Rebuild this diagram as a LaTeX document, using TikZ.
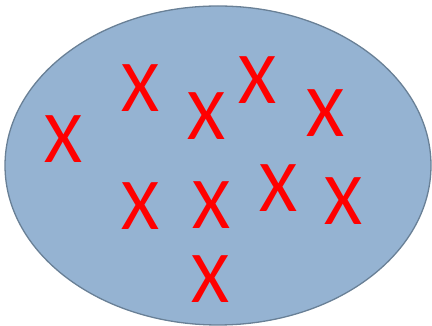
\documentclass[tikz,border=0pt]{standalone}
\usepackage{fontspec}
\setmainfont{Carlito}
\definecolor{setfill}{RGB}{149,179,210}
\definecolor{setline}{RGB}{105,128,150}
\definecolor{markred}{RGB}{255,0,0}
\begin{document}
\begin{tikzpicture}[x=1pt, y=1pt]
  \tikzset{
    mark x/.style={text=markred, inner sep=0pt, font=\fontsize{73}{73}\selectfont}
  }
  \useasboundingbox (0,0) rectangle (432,326);
  %% ---- Conjunto ----
  \draw[setline, fill=setfill, line width=1.3pt] (218,160.5) ellipse (213 and 159.5);
  %% ---- Elementos ----
  \node[mark x] (e1)  at (63,187)    {X};
  \node[mark x] (e2)  at (140.5,238) {X};
  \node[mark x] (e3)  at (206.5,210) {X};
  \node[mark x] (e4)  at (257.5,246) {X};
  \node[mark x] (e5)  at (325,213)   {X};
  \node[mark x] (e6)  at (140,120)   {X};
  \node[mark x] (e7)  at (211,121)   {X};
  \node[mark x] (e8)  at (278.5,137.5) {X};
  \node[mark x] (e9)  at (343.5,124.5) {X};
  \node[mark x] (e10) at (210.5,46.5)  {X};
\end{tikzpicture}
\end{document}
